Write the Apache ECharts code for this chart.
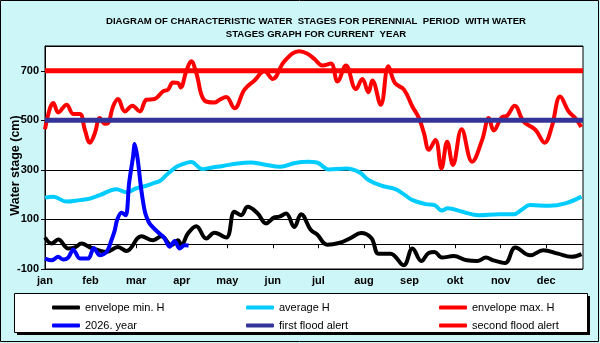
<!DOCTYPE html>
<html>
<head>
<meta charset="utf-8">
<script src="https://cdn.jsdelivr.net/npm/echarts@6/dist/echarts.min.js"></script>
<style>
  html, body { margin: 0; padding: 0; }
  #chart { width: 600px; height: 343px; }
</style>
</head>
<body>
<div id="chart"></div>
<script>
// month tick labels (one tick every 31 days)
var months = ['jan', 'feb', 'mar', 'apr', 'may', 'jun', 'jul', 'aug', 'sep', 'okt', 'nov', 'dec'];

// envelope min. H  (day of year, cm)
var minDays = [0, 4.5, 9, 15.8, 20.4, 24.9, 30.5, 36.2, 41.9, 49.7, 55.4, 65.6, 73.5, 79.2, 86, 90.4, 92.7, 97.2, 102.9, 109.7, 115.3, 123.3, 128.9, 133.4, 137.9, 144.7, 150.4, 156, 159.4, 164, 169.6, 174.2, 180.9, 185, 192, 200, 208, 215, 222, 227, 235, 244, 250, 256, 261, 265, 270, 278, 287, 294, 300, 305, 313, 320, 330, 339, 349, 358, 365];
var minValues = [27, 3, 19, -17, -13, 3, -13, -24, -31, -11, -27, 32, 16, 32, -4, 16, -4, 43, 73, 23, 46, 27, 131, 117, 151, 124, 84, 108, 111, 124, 70, 121, 57, 40, -2, 5, 25, 45, 25, -38, -38, -85, -17, -68, -35, -31, -54, -48, -65, -68, -54, -65, -76, -13, -45, -24, -38, -51, -40];

// average H
var avgDays = [0, 5.6, 14.7, 23.7, 30.5, 37.3, 48.6, 55.4, 62.2, 69, 73.5, 78, 82.6, 89.3, 93, 99.5, 107, 113, 121, 131, 140, 149, 160, 170, 179, 185, 193, 205, 214, 220, 229, 238, 244, 250, 259, 265, 270, 274, 284, 295, 309, 319, 324, 330, 343, 354, 365];
var avgValues = [188, 192, 172, 178, 184, 198, 222, 210, 226, 236, 246, 255, 279, 312, 322, 332, 303, 309, 316, 326, 330, 322, 313, 328, 333, 330, 302, 306, 290, 259, 236, 223, 202, 178, 162, 158, 136, 145, 131, 117, 121, 121, 138, 158, 155, 165, 192];

// envelope max. H
var maxDays = [0, 3.4, 5.6, 9, 14.7, 19.2, 23.7, 27.1, 30.5, 33.9, 37.3, 40.7, 42.9, 46.3, 49.7, 54.3, 59.5, 64.4, 69, 74.6, 80.3, 83.7, 87, 90.4, 92.3, 96.1, 99.5, 102.9, 108.5, 115.3, 118.7, 123.3, 128.9, 135.7, 142.5, 149.3, 154.9, 162.8, 173, 178.6, 183.2, 188.8, 194.5, 199, 204.7, 211.5, 215.9, 220, 222.7, 228.4, 233.6, 238, 244.2, 249.9, 254.4, 257.8, 261.2, 265.6, 269.7, 273.6, 277.5, 283.4, 290.6, 297.4, 301.9, 305.3, 310.9, 314.3, 319.5, 325.6, 333.6, 339.9, 344.8, 350.5, 356.2, 360.7, 364.8];
var maxValues = [464, 549, 570, 532, 563, 526, 526, 462, 410, 448, 509, 486, 489, 556, 586, 536, 559, 536, 583, 586, 617, 624, 653, 651, 633, 698, 738, 691, 580, 572, 583, 594, 549, 624, 661, 698, 667, 738, 779, 769, 748, 721, 729, 657, 721, 626, 667, 613, 661, 563, 718, 651, 624, 556, 509, 448, 381, 421, 306, 414, 320, 464, 333, 421, 509, 459, 513, 518, 559, 495, 462, 410, 475, 596, 536, 509, 473];

// 2026. year
var yearDays = [0, 4.5, 9, 12.4, 15.8, 19.2, 23.7, 29.4, 33.2, 37.3, 41.9, 45.2, 47.5, 49, 52, 55, 57.2, 59.9, 61, 63, 65.5, 68, 70.5, 72, 76.5, 81, 84.8, 88.2, 91.6, 95, 97.7];
var yearValues = [-58, -65, -51, -62, -54, -21, -58, -58, -15, -45, -31, 16, 57, 97, 127, 117, 246, 353, 404, 345, 220, 130, 90, 77, 50, 27, -10, 13, -17, -4, -5];

var firstFloodAlert = 500;
var secondFloodAlert = 700;
var yearStart = 0, yearEnd = 366;

function pairs(days, values) {
  return days.map(function (d, i) { return [d, values[i]]; });
}

var chart = echarts.init(document.getElementById('chart'));

var lineSeries = function (name, data, color, width, smooth) {
  return {
    name: name,
    type: 'line',
    data: data,
    smooth: smooth,
    showSymbol: false,
    symbol: 'none',
    lineStyle: { color: color, width: width },
    itemStyle: { color: color },
    emphasis: { disabled: true },
    animation: false
  };
};

var legendText = { fontFamily: 'Liberation Sans, Arial', fontSize: 11, color: '#000' };
var legendCol = function (left, names) {
  return {
    left: left, top: 297, orient: 'vertical', itemGap: 7,
    itemWidth: 28, itemHeight: 4, icon: 'roundRect',
    textStyle: legendText, data: names, selectedMode: false
  };
};

var option = {
  backgroundColor: '#cdf6f8',
  animation: false,
  title: {
    text: 'DIAGRAM OF CHARACTERISTIC WATER  STAGES FOR PERENNIAL  PERIOD  WITH WATER\nSTAGES GRAPH FOR CURRENT  YEAR',
    left: 311, top: 10, textAlign: 'center',
    textStyle: { fontFamily: 'Liberation Sans, Arial', fontSize: 9.6, fontWeight: 'bold', color: '#000', lineHeight: 13, align: 'center' }
  },
  graphic: [
    { type: 'rect', shape: { x: 0.5, y: 0.5, width: 598, height: 341 }, style: { fill: null, stroke: '#000', lineWidth: 1 }, z: 100 },
    { type: 'rect', shape: { x: 17, y: 296, width: 573, height: 39 }, style: { fill: '#000' }, z: 0 },
    { type: 'rect', shape: { x: 14.5, y: 293.5, width: 573, height: 39 }, style: { fill: '#fff', stroke: '#000', lineWidth: 1 }, z: 1 }
  ],
  legend: [
    legendCol(47, ['envelope min. H', '2026. year']),
    legendCol(241, ['average H', 'first flood alert']),
    legendCol(434, ['envelope max. H', 'second flood alert'])
  ],
  grid: {
    left: 45, right: 17, top: 46, bottom: 74,
    outerBoundsMode: 'none', containLabel: false,
    show: true, backgroundColor: '#fff', borderColor: '#000', borderWidth: 1
  },
  xAxis: {
    type: 'value', min: yearStart, max: yearEnd, interval: 31,
    axisLine: { lineStyle: { color: '#000', width: 1 } },
    axisTick: { show: true, length: 4, lineStyle: { color: '#000' } },
    splitLine: { show: false },
    axisLabel: {
      showMaxLabel: false, margin: 6,
      fontFamily: 'Liberation Sans, Arial', fontSize: 11, fontWeight: 'bold', color: '#000',
      formatter: function (v) { return months[Math.round(v / 31)] || ''; }
    }
  },
  yAxis: {
    type: 'value', min: -100, max: 800, interval: 200,
    name: 'Water stage (cm)', nameLocation: 'middle', nameGap: 23, nameRotate: 90,
    nameMoveOverlap: false,
    nameTextStyle: { fontFamily: 'Liberation Sans, Arial', fontSize: 12.5, fontWeight: 'bold', color: '#000', padding: [0, 16, 0, 0] },
    axisLine: { show: true, lineStyle: { color: '#000', width: 1 } },
    axisTick: { show: true, length: 4, lineStyle: { color: '#000' } },
    splitLine: { show: true, lineStyle: { color: '#000', width: 1 } },
    axisLabel: {
      showMaxLabel: false, margin: 6,
      fontFamily: 'Liberation Sans, Arial', fontSize: 11, fontWeight: 'bold', color: '#000'
    }
  },
  series: [
    lineSeries('envelope min. H', pairs(minDays, minValues), '#000000', 4, 0.4),
    lineSeries('average H', pairs(avgDays, avgValues), '#00ccff', 4, 0.4),
    lineSeries('envelope max. H', pairs(maxDays, maxValues), '#ff0000', 4, 0.4),
    lineSeries('2026. year', pairs(yearDays, yearValues), '#0000ff', 4, 0.3),
    lineSeries('first flood alert', [[yearStart, firstFloodAlert], [yearEnd, firstFloodAlert]], '#333399', 5, false),
    lineSeries('second flood alert', [[yearStart, secondFloodAlert], [yearEnd, secondFloodAlert]], '#ff0000', 5, false)
  ]
};

chart.setOption(option);
</script>
</body>
</html>
